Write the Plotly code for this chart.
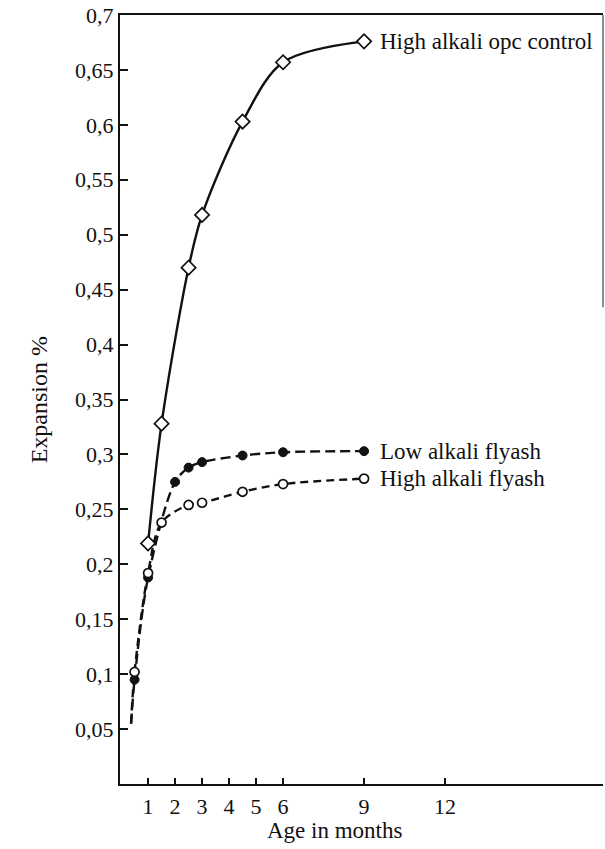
import plotly.graph_objects as go

# Axis ticks
month_ticks = [1, 2, 3, 4, 5, 6, 9, 12]
expansion_ticks = [0.05, 0.1, 0.15, 0.2, 0.25, 0.3, 0.35, 0.4, 0.45, 0.5, 0.55, 0.6, 0.65, 0.7]

# High alkali OPC control (solid line, open diamonds)
opc_age = [1, 1.5, 2.5, 3, 4.5, 6, 9]
opc_exp = [0.219, 0.328, 0.470, 0.518, 0.603, 0.657, 0.676]

# Low alkali flyash (dashed line, filled circles)
low_age = [0.5, 1, 2, 2.5, 3, 4.5, 6, 9]
low_exp = [0.095, 0.188, 0.275, 0.288, 0.293, 0.299, 0.302, 0.303]

# High alkali flyash (dashed line, open circles)
high_age = [0.5, 1, 1.5, 2.5, 3, 4.5, 6, 9]
high_exp = [0.102, 0.192, 0.238, 0.254, 0.256, 0.266, 0.273, 0.278]

# Where the fitted flyash curves begin
curve_start_age = [0.37]
curve_start_exp = [0.055]

series_labels = ["High alkali opc control", "Low alkali flyash", "High alkali flyash"]

FONT = "Liberation Serif"
INK = "#111111"

fig = go.Figure()

# Fitted curves
fig.add_trace(go.Scatter(
    x=opc_age, y=opc_exp, mode="lines",
    line=dict(color=INK, width=2.4, shape="spline", smoothing=0.9),
    hoverinfo="skip"))
fig.add_trace(go.Scatter(
    x=curve_start_age + low_age, y=curve_start_exp + low_exp, mode="lines",
    line=dict(color=INK, width=2.4, dash="10px,5px", shape="spline", smoothing=0.9),
    hoverinfo="skip"))
fig.add_trace(go.Scatter(
    x=curve_start_age + high_age, y=curve_start_exp + high_exp, mode="lines",
    line=dict(color=INK, width=2.4, dash="8px,5px", shape="spline", smoothing=0.9),
    hoverinfo="skip"))

# Measured points
fig.add_trace(go.Scatter(
    x=opc_age, y=opc_exp, mode="markers", name=series_labels[0],
    marker=dict(symbol="diamond", size=11, color="white",
                line=dict(color=INK, width=1.7))))
fig.add_trace(go.Scatter(
    x=low_age, y=low_exp, mode="markers", name=series_labels[1],
    marker=dict(symbol="circle", size=9, color=INK,
                line=dict(color=INK, width=1))))
fig.add_trace(go.Scatter(
    x=high_age, y=high_exp, mode="markers", name=series_labels[2],
    marker=dict(symbol="circle", size=9, color="white",
                line=dict(color=INK, width=1.7))))

# Series names written beside the last point of each curve
for ages, vals, label in [(opc_age, opc_exp, series_labels[0]),
                          (low_age, low_exp, series_labels[1]),
                          (high_age, high_exp, series_labels[2])]:
    fig.add_annotation(x=ages[-1], y=vals[-1], text=label, showarrow=False,
                       xanchor="left", yanchor="middle", xshift=14,
                       font=dict(family=FONT, size=23, color=INK))

# Axis titles
fig.add_annotation(x=0.445, y=-0.061, xref="paper", yref="paper",
                   text="Age in months", showarrow=False,
                   xanchor="center", yanchor="middle",
                   font=dict(family=FONT, size=23, color=INK))
fig.add_annotation(x=-0.168, y=0.5, xref="paper", yref="paper",
                   text="Expansion %", showarrow=False, textangle=-90,
                   xanchor="center", yanchor="middle",
                   font=dict(family=FONT, size=24, color=INK))

# Partial right-hand frame edge
fig.add_shape(type="line", xref="paper", yref="paper",
              x0=1, x1=1, y0=0.62, y1=1,
              line=dict(color="#444444", width=1.2))

fig.update_layout(
    width=605, height=849,
    margin=dict(l=120, r=2, t=15, b=65),
    paper_bgcolor="white", plot_bgcolor="white",
    showlegend=False,
    font=dict(family=FONT, size=22, color=INK),
    xaxis=dict(
        range=[-0.04, 17.85],
        tickvals=month_ticks,
        ticktext=[str(m) for m in month_ticks],
        ticks="inside", ticklen=6, tickwidth=1.5, tickcolor=INK,
        showline=True, linecolor=INK, linewidth=2, mirror=True,
        showgrid=False, zeroline=False,
        ticklabelstandoff=2,
        tickfont=dict(family=FONT, size=22, color=INK),
    ),
    yaxis=dict(
        range=[0, 0.7],
        tickvals=expansion_ticks,
        ticktext=[f"{v:g}".replace(".", ",") for v in expansion_ticks],
        ticks="inside", ticklen=8, tickwidth=1.5, tickcolor=INK,
        showline=True, linecolor=INK, linewidth=2,
        showgrid=False, zeroline=False,
        ticklabelstandoff=0,
        tickfont=dict(family=FONT, size=22, color=INK),
    ),
)

fig.write_html("out.html")
